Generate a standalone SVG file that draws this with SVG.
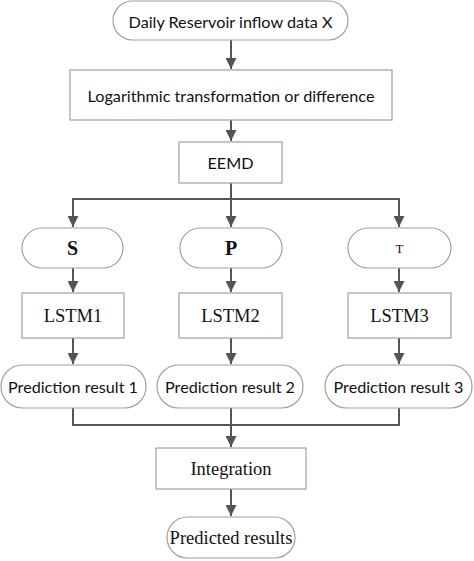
<svg xmlns="http://www.w3.org/2000/svg" width="474" height="561" viewBox="0 0 474 561">
<style>
.box{fill:#fff;stroke:#a0a0a0;stroke-width:1.2}
.sans{font-family:Lato,"Liberation Sans",sans-serif;font-size:16.2px;fill:#111;text-anchor:middle;dominant-baseline:central}
.serif{font-family:"Liberation Serif","Times New Roman",serif;font-size:18.5px;fill:#111;text-anchor:middle;dominant-baseline:central}
.big{font-size:20px;font-weight:bold}
.ln{fill:none;stroke:#555;stroke-width:2}
</style>
<defs>
<marker id="ah" viewBox="0 0 10 10" refX="10" refY="5" markerWidth="5.5" markerHeight="5.5" markerUnits="strokeWidth" orient="auto">
<path d="M0,0 L10,5 L0,10 z" fill="#555"/>
</marker>
</defs>
<rect width="474" height="561" fill="#fff"/>
<g id="connectors">
<line class="ln" x1="231" y1="40" x2="231" y2="69" marker-end="url(#ah)"/>
<line class="ln" x1="231" y1="120" x2="231" y2="141" marker-end="url(#ah)"/>
<line class="ln" x1="231" y1="183" x2="231" y2="227" marker-end="url(#ah)"/>
<polyline class="ln" points="73,227 73,199 399,199 399,227" marker-end="url(#ah)"/>
<line class="ln" x1="73" y1="199" x2="73" y2="227" marker-end="url(#ah)"/>
<line class="ln" x1="73" y1="268" x2="73" y2="292" marker-end="url(#ah)"/>
<line class="ln" x1="231" y1="268" x2="231" y2="292" marker-end="url(#ah)"/>
<line class="ln" x1="399" y1="268" x2="399" y2="292" marker-end="url(#ah)"/>
<line class="ln" x1="73" y1="338" x2="73" y2="364" marker-end="url(#ah)"/>
<line class="ln" x1="231" y1="338" x2="231" y2="364" marker-end="url(#ah)"/>
<line class="ln" x1="399" y1="338" x2="399" y2="364" marker-end="url(#ah)"/>
<polyline class="ln" points="73,408 73,425 399,425 399,408"/>
<line class="ln" x1="231" y1="408" x2="231" y2="447" marker-end="url(#ah)"/>
<line class="ln" x1="231" y1="489" x2="231" y2="516" marker-end="url(#ah)"/>
</g>
<g id="n-input"><rect class="box" x="113" y="1" width="235" height="39" rx="19.5"/><text class="sans" x="230.5" y="21">Daily Reservoir inflow data X</text></g>
<g id="n-transform"><rect class="box" x="70" y="70" width="322" height="50"/><text class="sans" x="231" y="95">Logarithmic transformation or difference</text></g>
<g id="n-eemd"><rect class="box" x="179" y="142" width="103" height="41"/><text class="sans" x="230.5" y="162.5">EEMD</text></g>
<g id="n-s"><rect class="box" x="22" y="228" width="101" height="40" rx="20"/><text class="serif big" x="72.5" y="248">S</text></g>
<g id="n-p"><rect class="box" x="180" y="228" width="102" height="40" rx="20"/><text class="serif big" x="231" y="248">P</text></g>
<g id="n-t"><rect class="box" x="348" y="228" width="103" height="40" rx="20"/><text class="serif" x="399.5" y="248" style="font-size:13px">T</text></g>
<g id="n-lstm1"><rect class="box" x="22" y="293" width="102" height="45"/><text class="serif" x="73" y="315.5">LSTM1</text></g>
<g id="n-lstm2"><rect class="box" x="179" y="293" width="103" height="45"/><text class="serif" x="230.5" y="315.5">LSTM2</text></g>
<g id="n-lstm3"><rect class="box" x="348" y="293" width="103" height="45"/><text class="serif" x="399.5" y="315.5">LSTM3</text></g>
<g id="n-pred1"><rect class="box" x="1" y="365" width="145" height="43" rx="21.5"/><text class="sans" x="73" y="386.5">Prediction result 1</text></g>
<g id="n-pred2"><rect class="box" x="157" y="365" width="146" height="43" rx="21.5"/><text class="sans" x="230" y="386.5">Prediction result 2</text></g>
<g id="n-pred3"><rect class="box" x="325" y="365" width="147" height="43" rx="21.5"/><text class="sans" x="398.5" y="386.5">Prediction result 3</text></g>
<g id="n-integration"><rect class="box" x="156" y="448" width="150" height="41"/><text class="serif" x="231" y="468.5">Integration</text></g>
<g id="n-output"><rect class="box" x="167" y="517" width="128" height="41" rx="20.5"/><text class="serif" x="231" y="537.5">Predicted results</text></g>
</svg>
